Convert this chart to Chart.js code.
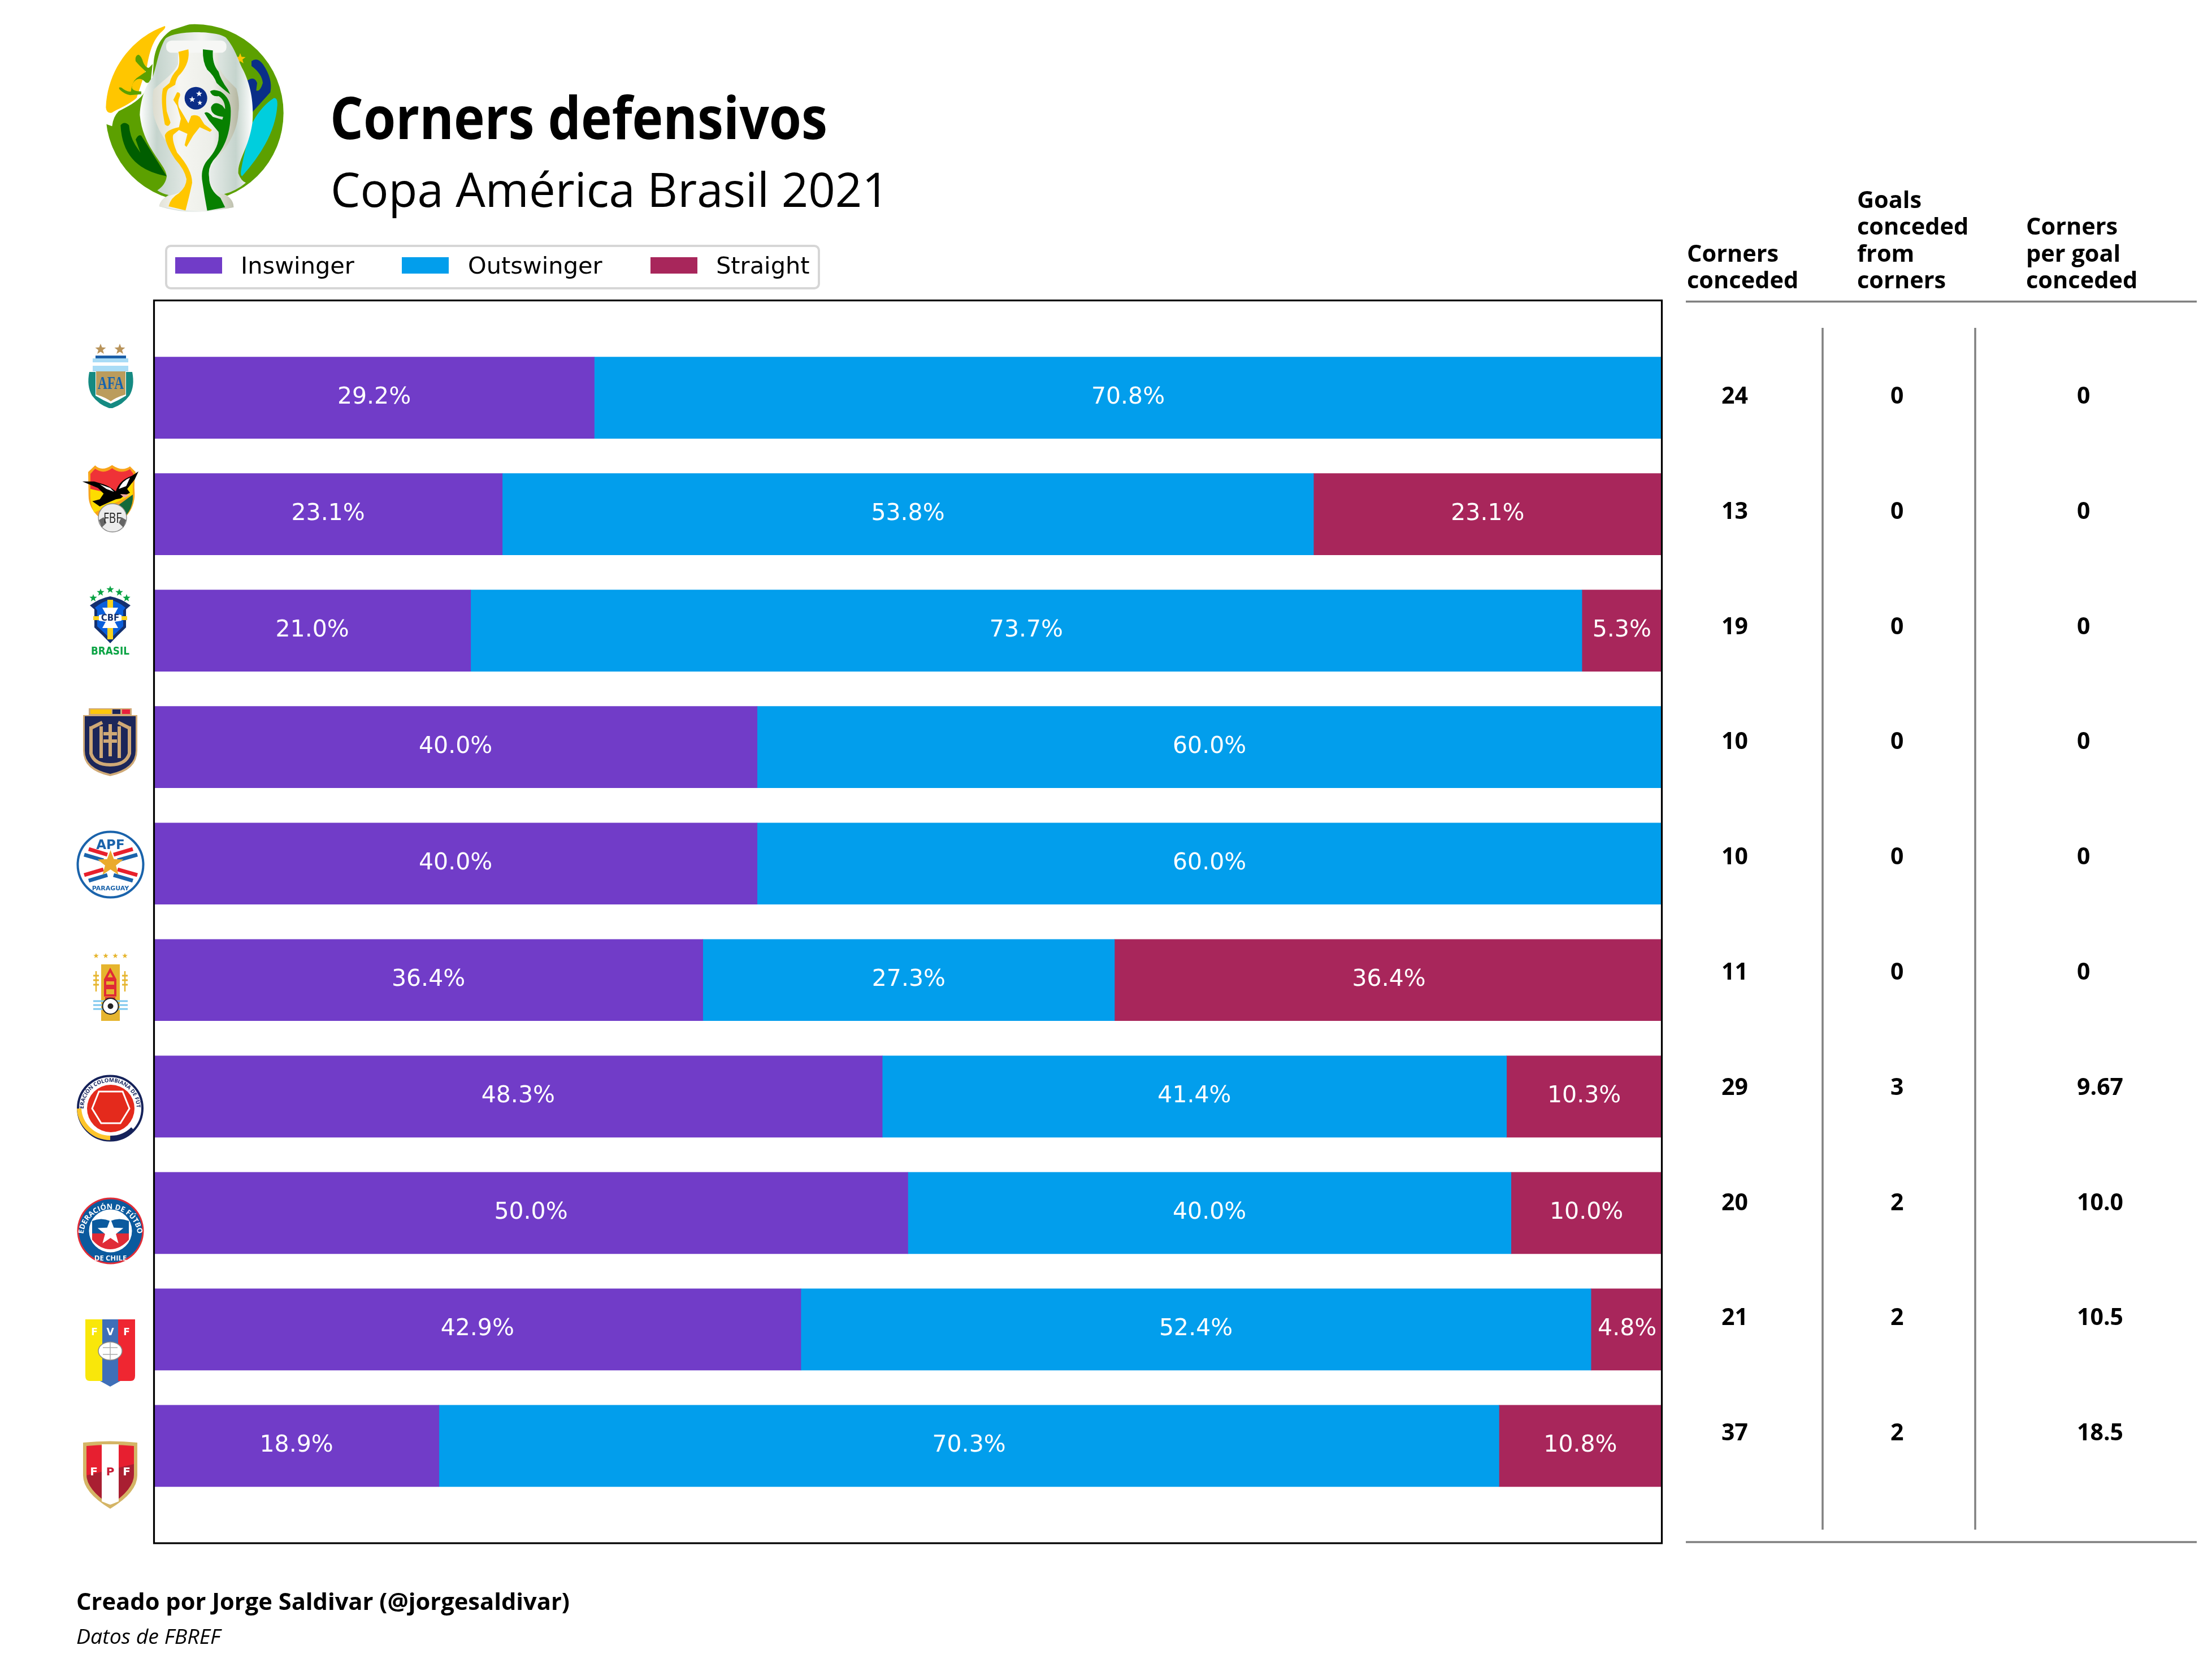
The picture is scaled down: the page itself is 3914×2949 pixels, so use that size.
<!DOCTYPE html>
<html><head><meta charset="utf-8">
<style>html,body{margin:0;padding:0;background:#fff;width:3914px;height:2949px;overflow:hidden}
canvas{position:absolute;left:0;top:0}svg{position:absolute;left:0;top:0}</style>
<script src="https://cdn.jsdelivr.net/npm/chart.js@4"></script></head><body>
<canvas id="c" width="3914" height="2949" style="width:3914px;height:2949px"></canvas>
<svg id="o" width="3914" height="2949" viewBox="0 0 3914 2949" xmlns="http://www.w3.org/2000/svg"></svg>
<script>
const teams=["Argentina","Bolivia","Brasil","Ecuador","Paraguay","Uruguay","Colombia","Chile","Venezuela","Perú"];
const inswinger=[29.2,23.1,21.0,40.0,40.0,36.4,48.3,50.0,42.9,18.9];
const outswinger=[70.8,53.8,73.7,60.0,60.0,27.3,41.4,40.0,52.4,70.3];
const straight=[0,23.1,5.3,0,0,36.4,10.3,10.0,4.8,10.8];
const cornersConceded=["24","13","19","10","10","11","29","20","21","37"];
const goalsConceded=["0","0","0","0","0","0","3","2","2","2"];
const cornersPerGoal=["0","0","0","0","0","0","9.67","10.0","10.5","18.5"];
const seriesNames=["Inswinger","Outswinger","Straight"];
const seriesColors=["#713cc8","#029eec","#a8265b"];

const barLabels={id:'barLabels',afterDatasetsDraw(ch){
  const g=ch.ctx;g.save();g.fillStyle='#fff';g.font='41px "DejaVu Sans"';g.textAlign='center';g.textBaseline='alphabetic';
  ch.data.datasets.forEach((d,i)=>{ch.getDatasetMeta(i).data.forEach((el,j)=>{
    const v=d.data[j].x;if(!v)return;
    const p=el.getProps(['x','y','base'],true);
    g.fillText(v.toFixed(1)+'%',(p.x+p.base)/2,p.y+10);});});
  g.restore();}};
const frame={id:'frame',afterDraw(ch){const a=ch.chartArea,g=ch.ctx;g.save();g.strokeStyle='#000';g.lineWidth=3.2;
  g.strokeRect(a.left,a.top,a.right-a.left,a.bottom-a.top);g.restore();}};

const mk=(arr)=>arr.map((v,i)=>({x:v,y:i}));
new Chart(document.getElementById('c'),{type:'bar',
 data:{labels:teams,datasets:[
  {label:seriesNames[0],data:mk(inswinger),backgroundColor:seriesColors[0],barThickness:144},
  {label:seriesNames[1],data:mk(outswinger),backgroundColor:seriesColors[1],barThickness:144},
  {label:seriesNames[2],data:mk(straight),backgroundColor:seriesColors[2],barThickness:144}]},
 options:{indexAxis:'y',responsive:false,animation:false,devicePixelRatio:1,
  layout:{padding:{left:272.5,top:531.5,right:973.5,bottom:219}},
  plugins:{legend:{display:false},title:{display:false},tooltip:{enabled:false}},
  scales:{x:{type:'linear',stacked:true,min:0,max:100,display:false},
          y:{type:'linear',stacked:true,reverse:true,offset:false,min:-0.835,max:9.835,display:false}}},
 plugins:[barLabels,frame]});

const OS='"Open Sans"',DV='"DejaVu Sans"';
let s='';
const T=(x,y,t,fs,o={})=>`<text x="${x}" y="${y}" font-family='${o.f||OS}' font-size="${fs}" font-weight="${o.w||400}" fill="${o.c||'#000'}"${o.i?' font-style="italic"':''}${o.a?` text-anchor="${o.a}"`:''}${o.tl?` textLength="${o.tl}" lengthAdjust="spacingAndGlyphs"`:''}>${t}</text>`;
// header
s+=T(584,246,'Corners defensivos',104,{w:700,tl:880});
s+=T(585,366,'Copa América Brasil 2021',84,{tl:988});
// legend
s+=`<rect x="294" y="435" width="1155" height="75" rx="8" fill="#fff" stroke="#d6d6d6" stroke-width="4"/>`;
[[310,426],[711,828],[1151,1267]].forEach((p,i)=>{
  s+=`<rect x="${p[0]}" y="455" width="83" height="29" fill="${seriesColors[i]}"/>`;
  s+=T(p[1],484,seriesNames[i],41.5,{f:DV});});
// table
[[2985,[,,'Corners','conceded']],[3286,['Goals','conceded','from','corners']],[3585,[,'Corners','per goal','conceded']]].forEach(c=>{
  c[1].forEach((t,i)=>{if(t)s+=T(c[0],368+i*47.3,t,41.5,{w:700});});});
s+=`<path d="M2983 533.5H3887M2983 2728H3887" stroke="#808080" stroke-width="3.5" fill="none"/>`;
s+=`<path d="M3225 580V2706M3495 580V2706" stroke="#808080" stroke-width="3.5" fill="none"/>`;
teams.forEach((t,i)=>{const y=714+i*203.8;
  s+=T(3046,y,cornersConceded[i],41,{w:700});
  s+=T(3345,y,goalsConceded[i],41,{w:700});
  s+=T(3675,y,cornersPerGoal[i],41,{w:700});});
// footer
s+=T(135,2848,'Creado por Jorge Saldivar (@jorgesaldivar)',41,{w:700,tl:873});
s+=T(135,2908,'Datos de FBREF',37,{i:1,tl:255});

const star=(cx,cy,r,fill)=>{let p=[];for(let i=0;i<10;i++){const a=-Math.PI/2+i*Math.PI/5,q=i%2?r*.42:r;p.push((cx+q*Math.cos(a)).toFixed(1)+','+(cy+q*Math.sin(a)).toFixed(1));}return `<polygon points="${p.join(' ')}" fill="${fill}"/>`;};
const G=(x,y,b)=>`<g transform="translate(${x} ${y})">${b}</g>`;
const G3=(x,y,b)=>`<g transform="translate(${x} ${y}) scale(0.33333)">${b}</g>`;
// Copa América trophy logo
s+=`<defs><linearGradient id="ha" x1="0" x2="1" y1="0" y2="0"><stop offset="0" stop-color="#fff"/><stop offset=".15" stop-color="#c5d4cd"/><stop offset=".55" stop-color="#f2f4f2"/><stop offset=".85" stop-color="#c5d4cd"/><stop offset="1" stop-color="#fff"/></linearGradient>
<linearGradient id="bo" x1="0" x2="1" y1="0" y2="0"><stop offset="0" stop-color="#dcdccf"/><stop offset=".3" stop-color="#f6f6f2"/><stop offset=".7" stop-color="#eceee8"/><stop offset="1" stop-color="#b4b6a0"/></linearGradient></defs>`;
s+=G3(170,30,`
<circle cx="523" cy="510" r="472" fill="#5ca000"/>
<path d="M523,30L40,30L30,560L85,580Q90,530 120,500C160,480 220,450 250,410L300,330L305,250C310,170 340,110 400,70L523,30Z" fill="#fff"/>
<path d="M365,48Q372,55 355,72C310,110 285,170 270,265L215,430C170,470 110,490 85,508Q55,515 52,480C60,280 190,110 365,48Z" fill="#ffc600"/>
<path d="M225,200Q240,205 250,240Q262,270 280,270L300,250L290,340Q270,360 255,340Q235,320 210,335Q190,350 190,375Q195,395 240,395L240,410L180,415Q150,410 125,385Q115,370 135,375Q165,400 185,395Q190,345 215,325L265,290Q230,260 210,235Q205,205 225,200Z" fill="#5ca000"/>
<path d="M130,575Q150,550 175,575Q180,640 215,690L235,720L210,650Q225,620 240,630L375,845C250,820 140,760 130,575Z" fill="#005e00"/>
<path d="M825,235Q855,210 885,250Q940,330 925,400L830,505L800,340Q840,310 855,350L850,390Q870,400 885,350Q880,300 825,260Z" fill="#0a2e88"/>
<path d="M945,430Q965,430 962,470Q950,650 775,845Q765,840 770,810Q790,700 830,560Q880,470 945,430Z" fill="#00cedd"/>`+star(765,222,30,'#ffc600')+`
<path d="M365,120C400,70 640,70 690,110C740,170 750,220 780,280C810,340 840,430 830,560C810,700 750,760 755,830Q770,870 795,880C760,910 720,930 680,940Q730,970 730,1010Q600,1035 530,1035Q430,1035 335,1005Q340,970 385,945C360,940 340,930 325,920Q370,890 375,845C370,780 250,700 232,520C235,430 270,350 300,320C320,270 330,180 365,120Z" fill="url(#ha)"/>
<path d="M435,180L650,180L650,250Q660,300 710,345L745,380Q765,450 755,510Q750,620 660,730Q600,790 600,850Q610,930 690,945Q730,970 730,1010Q530,1050 335,1005Q340,965 400,945Q470,930 490,890Q510,830 460,760Q340,650 305,520Q295,440 305,385L350,345Q420,290 435,250Z" fill="url(#bo)"/>
<rect x="372" y="125" width="320" height="65" rx="28" fill="#f6f7f5"/>
<path d="M437,185L490,172Q500,240 450,300Q425,320 420,360L385,380Q365,400 375,500L395,560Q385,590 365,570Q340,440 355,380L390,350Q400,310 430,280Q450,250 437,185Z" fill="#ffc600"/>
<path d="M430,400Q450,400 445,420Q430,450 440,480L470,530L490,565L505,525Q530,515 550,530L575,570L615,600L605,610L550,585L515,630L480,690L470,680L485,620L440,600L410,625Q400,650 430,720Q510,810 510,880Q500,930 475,1027L385,1005Q395,960 440,935Q480,900 480,860Q470,810 420,755Q370,680 365,630Q370,600 440,585L450,540L430,470L410,440Z" fill="#ffc600"/>
<path d="M567,172L620,178Q615,250 650,290Q660,330 700,385L712,410Q670,380 640,350Q625,310 590,280Q565,240 567,172Z" fill="#078000"/>
<path d="M605,395Q620,380 660,395Q715,430 715,500Q715,650 640,740Q590,790 600,850Q600,920 660,960L685,1010L590,1028Q575,950 565,880Q550,800 600,750Q660,680 650,610L600,550L575,510Q590,495 620,530L670,545L675,530Q610,525 610,480Q625,440 670,470L685,490Q685,440 650,420Q615,425 605,395Z" fill="#078000"/>
<circle cx="530" cy="431" r="60" fill="#0b2d87"/>`+star(547,408,17,'#fff')+star(510,438,17,'#fff')+star(551,456,14,'#fff'));
// Argentina
s+=G(155,608,star(23,10,10,'#b8935a')+star(57,10,10,'#b8935a')+`
<rect x="14" y="21" width="54" height="8" fill="#1b5fa8"/><rect x="9" y="26" width="63" height="23" fill="#a9dcf6"/><rect x="9" y="33" width="63" height="6" fill="#fff"/>
<path d="M15,49H67V90Q50,95 41,102Q32,95 15,90Z" fill="#bb9c5c"/>
<text x="41" y="80" font-family='"Liberation Serif"' font-weight="700" font-size="31" text-anchor="middle" fill="#1463ae" textLength="46" lengthAdjust="spacingAndGlyphs">AFA</text>
<path d="M3,50Q-2,75 8,92Q20,108 38,114L44,114Q62,108 74,92Q84,75 79,50L68,50L68,92Q55,100 41,106Q27,100 14,92L14,50Z" fill="#158a82"/>`);
// Bolivia
s+=G3(130,810,`<path d="M78,75L115,40Q150,75 205,38Q260,75 300,45L330,75Q320,130 325,190Q325,260 280,310L130,310Q80,260 80,200Z" fill="#f8a51b"/>
<path d="M90,85L115,58Q160,90 205,55Q250,90 300,60L318,85L315,130L200,200L90,165Z" fill="#ef3237"/><path d="M90,165L200,190L315,130V195L110,290Q90,250 90,200Z" fill="#fddc00"/><path d="M315,195V220Q310,270 280,305L240,250Z" fill="#14693a"/>
<circle cx="207" cy="318" r="75" fill="#ececec" stroke="#888" stroke-width="4"/><path d="M135,330L160,315L175,345L150,370ZM280,330L255,315L240,345L265,370Z" fill="#666"/>
<text x="207" y="345" font-family='"Open Sans"' font-size="76" text-anchor="middle" fill="#222" textLength="96" lengthAdjust="spacingAndGlyphs">FBF</text>
<path d="M47,125L110,125L160,140Q190,150 225,178Q240,120 310,95L345,72L325,115L285,165L300,185L270,200L250,215L225,220L190,235L140,258L100,230L140,220L160,190L130,160Z" fill="#000"/>
<path d="M240,165Q260,120 300,105L280,150Z" fill="#fff"/><path d="M140,140L195,160L215,180L175,165Z" fill="#fff"/><path d="M248,192L300,195L270,212Z" fill="#f0a9a0"/>`);
// Brasil
s+=G(159,1038,star(6,20,7,'#0aa344')+star(19,10,7,'#0aa344')+star(36,5,7,'#0aa344')+star(52,10,7,'#0aa344')+star(65,20,7,'#0aa344')+`
<path d="M0,33Q18,20 36,17Q54,20 72,33L64,40V72Q50,85 36,100Q22,85 8,72V40Z" fill="#14306f"/>
<path d="M9,37Q22,26 36,23Q50,26 63,37L59,42V70Q48,80 36,92Q24,80 13,70V42Z" fill="#0a5fdc"/>
<rect x="31" y="23" width="10" height="70" fill="#f9d21c"/><rect x="6" y="52" width="60" height="7" fill="#f9d21c"/>
<path d="M22,37H50L44,48L56,50V60L44,62L50,73H22L28,62L16,60V50L28,48Z" fill="#fff"/>
<text x="36" y="60" font-family='"DejaVu Sans"' font-weight="700" font-size="15" text-anchor="middle" fill="#14306f">CBF</text>
<text x="36" y="120" font-family='"DejaVu Sans"' font-weight="700" font-size="19" text-anchor="middle" fill="#0aa344" textLength="68" lengthAdjust="spacingAndGlyphs">BRASIL</text>`);
// Ecuador
s+=G(147,1253,`<rect x="10" y="0" width="76" height="12" fill="#cfa976"/><rect x="13" y="2" width="37" height="8" fill="#fdc70c"/><rect x="52" y="2" width="14" height="8" fill="#1c2659"/><rect x="69" y="2" width="14" height="8" fill="#e8203c"/>
<path d="M0,12H96V75Q96,110 48,120Q0,110 0,75Z" fill="#cfa976"/><path d="M3,14H93V75Q93,106 48,116Q3,106 3,75Z" fill="#1c2659"/>
<path d="M14,35L34,25M62,25L82,35M14,32V80Q20,100 48,100Q76,100 82,80V32M32,32V88M64,32V88M48,28V85M36,45H60M36,58H60" stroke="#cfa976" stroke-width="6" fill="none"/>`);
// Paraguay
s+=G(135,1470,`<circle cx="60.5" cy="59.5" r="58" fill="#fff" stroke="#1a63ab" stroke-width="4"/>
<path d="M22,32L55,42M66,42L100,32M14,78L48,68M73,68L108,78" stroke="#e8202c" stroke-width="7"/><path d="M14,42L48,52M73,52L108,42M22,88L55,78M66,78L100,88" stroke="#1a63ab" stroke-width="7"/>`+star(60.5,58,24,'#eaaa2c')+`
<text x="60.5" y="32" font-family='"DejaVu Sans"' font-weight="700" font-size="23" text-anchor="middle" fill="#1a63ab">APF</text>
<text x="60.5" y="105" font-family='"DejaVu Sans"' font-weight="700" font-size="11" text-anchor="middle" fill="#1a63ab">PARAGUAY</text>`);
// Uruguay
s+=G(165,1686,star(5,5,5,'#e6b52e')+star(22,5,5,'#e6b52e')+star(39,5,5,'#e6b52e')+star(56,5,5,'#e6b52e')+`
<rect x="14" y="20" width="33" height="100" fill="#e6b52e"/>
<path d="M30,30L38,45H22ZM21,48H39V58H21ZM21,62H39V75H21Z" fill="none" stroke="#e02b36" stroke-width="4"/><path d="M21,80H39M21,88H35" stroke="#e02b36" stroke-width="4"/>
<path d="M5,32V68M56,32V68" stroke="#e6b52e" stroke-width="2.5"/><path d="M0,40H10M0,48H10M0,56H10M51,40H61M51,48H61M51,56H61" stroke="#e6b52e" stroke-width="3"/>
<path d="M0,85H61M0,92H61M0,99H61" stroke="#7cc7ee" stroke-width="3"/>
<circle cx="30.5" cy="94" r="14" fill="#fff" stroke="#222" stroke-width="2"/><circle cx="30.5" cy="94" r="5" fill="#222"/>`);
// Colombia
s+=G(135,1901,`<circle cx="60" cy="59.5" r="57" fill="#fff" stroke="#15225a" stroke-width="4"/>
<circle cx="61" cy="60" r="42" fill="#e42a1c"/><path d="M40,30H82L94,60L78,86H44L28,60Z" fill="none" stroke="#fff" stroke-width="3"/>
<path d="M5,60A55,55 0 0 0 60,112" stroke="#fdc52c" stroke-width="8" fill="none"/><path d="M60,112A55,55 0 0 0 100,96" stroke="#15225a" stroke-width="8" fill="none"/>
<path id="cop" d="M13,60A47,47 0 0 1 107,60" fill="none"/><text font-family='"Open Sans"' font-weight="700" font-size="9.5" fill="#15225a"><textPath href="#cop" startOffset="50%" text-anchor="middle">FEDERACIÓN COLOMBIANA DE FÚTBOL</textPath></text>`);
// Chile
s+=G(135,2118,`<circle cx="60.5" cy="59.5" r="59" fill="#e02b36"/><circle cx="60.5" cy="59.5" r="56" fill="#0b5a9e"/><circle cx="60.5" cy="59.5" r="38" fill="#fff"/>
<path d="M28,42Q44,35 60,42Q76,35 93,42V72H28Z" fill="#0b5a9e"/><path d="M28,64H93V75Q78,92 60,92Q42,92 28,75Z" fill="#e02b36"/>`+star(60.5,62,24,'#fff')+`
<path id="chp" d="M13,62A48,48 0 0 1 108,62" fill="none"/><text font-family='"Open Sans"' font-weight="700" font-size="13" fill="#fff"><textPath href="#chp" startOffset="50%" text-anchor="middle">FEDERACIÓN DE FÚTBOL</textPath></text>
<text x="60.5" y="112" font-family='"Open Sans"' font-weight="700" font-size="13" text-anchor="middle" fill="#fff">DE CHILE</text>`);
// Venezuela
s+=G(151,2334,`<path d="M0,0H30V109H8Q0,109 0,100Z" fill="#f9e70a"/><rect x="30" y="0" width="28" height="109" fill="#3f6fb8"/><path d="M58,0H88V100Q88,109 80,109H58Z" fill="#ef2631"/><path d="M26,109H62L44,119Z" fill="#3f6fb8"/>
<ellipse cx="44" cy="56" rx="21" ry="16" fill="#fff" stroke="#888" stroke-width="1.5"/><path d="M44,40V72M31,50H57M31,62H57" stroke="#aaa" stroke-width="1.5"/>
<text x="16" y="28" font-family='"DejaVu Sans"' font-weight="700" font-size="17" text-anchor="middle" fill="#fff">F</text><text x="44" y="28" font-family='"DejaVu Sans"' font-weight="700" font-size="17" text-anchor="middle" fill="#fff">V</text><text x="73" y="28" font-family='"DejaVu Sans"' font-weight="700" font-size="17" text-anchor="middle" fill="#fff">F</text>`);
// Perú
s+=G(147,2550,`<path d="M0,2Q48,-3 96,2V60Q96,90 48,119Q0,90 0,60Z" fill="#d4b566"/><path d="M6,8Q48,4 90,8V58Q90,85 48,112Q6,85 6,58Z" fill="#e71f30"/>
<path d="M6,60Q48,50 90,40V58Q90,85 48,112Q6,85 6,58Z" fill="#8f1f33" opacity=".7"/><path d="M33,5H63V106L48,112L33,106Z" fill="#fff"/>
<text x="19" y="60" font-family='"DejaVu Sans"' font-weight="700" font-size="20" text-anchor="middle" fill="#fff">F</text><text x="48" y="60" font-family='"DejaVu Sans"' font-weight="700" font-size="20" text-anchor="middle" fill="#c81e36">P</text><text x="77" y="60" font-family='"DejaVu Sans"' font-weight="700" font-size="20" text-anchor="middle" fill="#fff">F</text>`);
document.getElementById('o').innerHTML=s;
</script></body></html>
